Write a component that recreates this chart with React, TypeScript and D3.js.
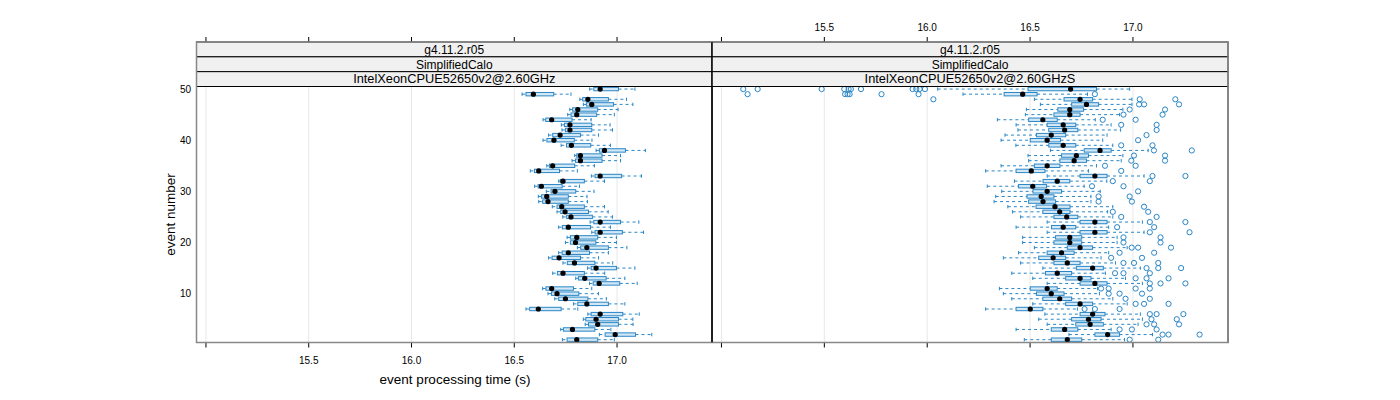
import React from "react";
import * as d3 from "d3";

// ---------- data ----------
const events = d3.range(1, 51);
const stripLabels = ["g4.11.2.r05", "SimplifiedCalo"];
const panelLabels = ["IntelXeonCPUE52650v2@2.60GHz", "IntelXeonCPUE52650v2@2.60GHzS"];
const xTicks = [15.0, 15.5, 16.0, 16.5, 17.0];
const xTickLabels = ["", "15.5", "16.0", "16.5", "17.0"];
const yTicks = [10, 20, 30, 40, 50];

// Panel 1 (event 1..50)
const p1Lo = [16.734,16.914,16.726,16.845,16.836,16.858,16.557,16.788,16.697,16.664,16.638,16.866,16.799,16.687,16.856,16.737,16.667,16.716,16.807,16.749,16.757,16.877,16.716,16.869,16.736,16.708,16.685,16.619,16.617,16.656,16.599,16.716,16.875,16.578,16.658,16.781,16.794,16.898,16.728,16.640,16.667,16.732,16.729,16.640,16.760,16.770,16.836,16.819,16.538,16.867];
const p1Q1 = [16.757,16.942,16.739,16.861,16.848,16.874,16.575,16.809,16.716,16.681,16.654,16.884,16.812,16.710,16.874,16.758,16.684,16.733,16.823,16.773,16.773,16.893,16.734,16.887,16.755,16.726,16.708,16.638,16.633,16.679,16.616,16.724,16.893,16.598,16.671,16.798,16.804,16.914,16.754,16.659,16.687,16.749,16.744,16.653,16.776,16.784,16.851,16.833,16.557,16.887];
const p1Med = [16.804,16.991,16.783,16.906,16.898,16.918,16.617,16.853,16.749,16.708,16.682,16.913,16.843,16.737,16.898,16.793,16.718,16.763,16.853,16.798,16.804,16.918,16.763,16.918,16.776,16.747,16.731,16.664,16.658,16.698,16.632,16.737,16.918,16.619,16.687,16.822,16.822,16.939,16.778,16.693,16.723,16.771,16.771,16.682,16.804,16.809,16.877,16.858,16.593,16.918];
const p1Q3 = [16.906,17.090,16.892,17.007,17.007,17.028,16.728,16.958,16.858,16.814,16.788,17.013,16.947,16.841,16.997,16.892,16.822,16.866,16.958,16.897,16.906,17.026,16.871,17.017,16.880,16.861,16.841,16.763,16.763,16.799,16.733,16.841,17.022,16.720,16.794,16.927,16.927,17.041,16.872,16.792,16.822,16.877,16.877,16.781,16.901,16.906,16.983,16.958,16.692,17.007];
const p1Hi = [16.987,17.169,16.970,17.078,17.077,17.108,16.809,17.038,16.948,16.910,16.877,17.098,17.038,16.940,17.087,16.979,16.910,16.958,17.048,16.997,16.997,17.129,16.968,17.106,16.978,16.957,16.939,16.856,16.854,16.888,16.817,16.939,17.119,16.807,16.890,17.017,17.017,17.138,16.968,16.878,16.910,16.978,16.966,16.874,16.987,17.005,17.077,17.046,16.776,17.087];
const p1Out: number[][] = events.map(() => []);

// Panel 2 (event 1..50)
const p2Lo = [16.472,16.689,16.432,16.583,16.542,16.572,16.284,16.513,16.411,16.370,16.351,16.583,16.513,16.411,16.562,16.454,16.370,16.444,16.521,16.464,16.464,16.583,16.432,16.583,16.454,16.415,16.392,16.325,16.333,16.362,16.292,16.424,16.583,16.284,16.359,16.493,16.490,16.599,16.431,16.359,16.378,16.441,16.432,16.341,16.477,16.482,16.550,16.521,16.174,16.051];
const p2Q1 = [16.603,16.815,16.603,16.722,16.702,16.743,16.432,16.673,16.562,16.531,16.501,16.743,16.673,16.575,16.725,16.616,16.542,16.583,16.681,16.616,16.624,16.743,16.604,16.743,16.616,16.562,16.529,16.493,16.485,16.514,16.444,16.563,16.743,16.432,16.521,16.645,16.653,16.763,16.591,16.501,16.531,16.591,16.583,16.493,16.616,16.635,16.702,16.665,16.374,16.490];
const p2Med = [16.681,16.877,16.668,16.792,16.784,16.804,16.501,16.743,16.644,16.603,16.583,16.815,16.743,16.632,16.804,16.681,16.612,16.653,16.743,16.693,16.693,16.815,16.661,16.815,16.678,16.644,16.621,16.563,16.554,16.583,16.513,16.632,16.815,16.506,16.583,16.714,16.725,16.840,16.661,16.583,16.603,16.668,16.661,16.562,16.693,16.693,16.774,16.743,16.464,16.697];
const p2Q3 = [16.751,16.935,16.732,16.856,16.845,16.864,16.562,16.804,16.702,16.665,16.632,16.874,16.796,16.702,16.856,16.743,16.673,16.714,16.804,16.751,16.751,16.874,16.722,16.874,16.732,16.694,16.694,16.624,16.616,16.653,16.580,16.693,16.874,16.572,16.645,16.774,16.784,16.894,16.722,16.648,16.673,16.732,16.722,16.632,16.743,16.760,16.833,16.804,16.534,16.823];
const p2Hi = [16.959,17.095,16.894,17.025,17.046,17.036,16.730,16.972,16.902,16.837,16.828,17.046,16.964,16.866,17.036,16.915,16.845,16.882,16.972,16.923,16.923,17.054,16.882,17.046,16.902,16.877,16.902,16.796,16.796,16.841,16.763,16.873,17.054,16.784,16.823,16.943,16.951,17.074,16.902,16.853,16.874,16.940,16.894,16.817,16.935,16.951,16.995,16.995,16.779,16.984];
const p2Out: number[][] = [
  [16.984,17.123],[17.144,17.173,17.324],[16.935,16.995,17.115],[17.066,17.103,17.224],[17.090,17.213],
  [17.082,17.115,17.245],[16.765,16.815,16.935],[17.013,17.054,17.173],[16.964,17.082],[16.882,16.935,17.044],
  [16.845,16.882,17.013,17.082],[17.082,17.134,17.255],[17.013,17.066,17.173],[16.913,16.954,17.082],[17.066,17.123,17.234],
  [16.954,17.005,17.123],[16.894,17.044],[16.935,17.103],[16.994,17.025,17.185],[16.954,17.134],
  [16.954,17.134],[17.082,17.275],[16.923,17.103],[17.082,17.255],[16.943,17.115],
  [16.902,17.074],[17.054],[16.833,16.995],[16.833,16.984],[17.025],
  [16.801,16.954],[16.902,17.082],[17.095,17.255],[16.943],[16.864,17.013],
  [16.992,17.156],[17.005,17.156],[17.102,17.286],[16.943,17.095],[17.025],
  [17.066],[17.115],[16.943,17.115],[16.853,17.013],[16.954,17.144],
  [16.984,17.156],[17.030,17.054,17.224],[16.030,17.033,17.206],
  [15.127,15.601,15.613,15.623,15.778,15.958,16.815],
  [15.106,15.176,15.487,15.597,15.618,15.629,15.678,15.929,15.947,15.963,15.989],
];

// ---------- layout ----------
const W = 1400, H = 400;
const panelTop = 86.5, panelBottom = 342.5;
const stripTop = 42;
const stripH = (panelTop - stripTop) / 3;
const panels = [
  { x0: 196.5, x1: 712, lo: p1Lo, q1: p1Q1, med: p1Med, q3: p1Q3, hi: p1Hi, out: p1Out, label: panelLabels[0] },
  { x0: 712, x1: 1228, lo: p2Lo, q1: p2Q1, med: p2Med, q3: p2Q3, hi: p2Hi, out: p2Out, label: panelLabels[1] },
];
const xDomain: [number, number] = [14.954, 17.462];
const y = d3.scaleLinear().domain([0.45, 50.5]).range([panelBottom, panelTop]);

const BLUE = "#2a86c6";
const FILL = "#d2e8f6";
const FONT = "'Liberation Sans', Arial, Helvetica, sans-serif";
const boxHalf = 1.7;

export default function App() {
  return (
    <svg width={W} height={H} style={{ position: "absolute", left: 0, top: 0, background: "#fff" }} fontFamily={FONT}>
      {panels.map((p, pi) => {
        const x = d3.scaleLinear().domain(xDomain).range([p.x0, p.x1]);
        return (
          <g key={pi}>
            {xTicks.map((t) => (
              <line key={"g" + t} x1={x(t)} x2={x(t)} y1={panelTop} y2={panelBottom} stroke="#e8e8e8" strokeWidth={1} />
            ))}
            {events.map((e, i) => {
              const cy = y(e);
              return (
                <g key={e}>
                  <line x1={x(p.lo[i])} x2={x(p.q1[i])} y1={cy} y2={cy} stroke={BLUE} strokeDasharray="3,3" strokeWidth={1} />
                  <line x1={x(p.q3[i])} x2={x(p.hi[i])} y1={cy} y2={cy} stroke={BLUE} strokeDasharray="3,3" strokeWidth={1} />
                  <line x1={x(p.lo[i])} x2={x(p.lo[i])} y1={cy - boxHalf} y2={cy + boxHalf} stroke={BLUE} strokeWidth={1} />
                  <line x1={x(p.hi[i])} x2={x(p.hi[i])} y1={cy - boxHalf} y2={cy + boxHalf} stroke={BLUE} strokeWidth={1} />
                  <rect x={x(p.q1[i])} y={cy - boxHalf} width={x(p.q3[i]) - x(p.q1[i])} height={boxHalf * 2} fill={FILL} stroke={BLUE} strokeWidth={1} />
                  {p.out[i].map((o, k) => (
                    <circle key={k} cx={x(o)} cy={cy} r={2.6} fill="none" stroke={BLUE} strokeWidth={1} />
                  ))}
                  <circle cx={x(p.med[i])} cy={cy} r={2.6} fill="#000" />
                </g>
              );
            })}
            {[...stripLabels, p.label].map((s, si) => (
              <g key={"s" + si}>
                <rect x={p.x0} y={stripTop + si * stripH} width={p.x1 - p.x0} height={stripH} fill="#f0f0f0" stroke="#000" strokeWidth={1} />
                <text x={(p.x0 + p.x1) / 2} y={stripTop + si * stripH + stripH / 2 + 4.3} textAnchor="middle" fontSize={si === 2 ? 12.8 : 12} fill="#000">{s}</text>
              </g>
            ))}
            <rect x={p.x0} y={panelTop} width={p.x1 - p.x0} height={panelBottom - panelTop} fill="none" stroke="#000" strokeWidth={1} />
            {xTicks.map((t, ti) => (
              <g key={"b" + t}>
                <line x1={x(t)} x2={x(t)} y1={panelBottom} y2={panelBottom + 5} stroke="#000" />
                {pi === 0 && (
                  <text x={x(t)} y={panelBottom + 21} textAnchor="middle" fontSize={10}>{xTickLabels[ti]}</text>
                )}
                <line x1={x(t)} x2={x(t)} y1={stripTop} y2={stripTop - 5} stroke="#000" />
                {pi === 1 && (
                  <text x={x(t)} y={stripTop - 11} textAnchor="middle" fontSize={10}>{xTickLabels[ti]}</text>
                )}
              </g>
            ))}
          </g>
        );
      })}
      <rect x={196.5} y={stripTop} width={1228 - 196.5} height={panelBottom - stripTop} fill="none" stroke="#888" strokeWidth={1.5} />
      <line x1={712} x2={712} y1={stripTop} y2={panelBottom} stroke="#000" strokeWidth={1} />
      {yTicks.map((t) => (
        <text key={t} x={191} y={y(t) + 3.5} textAnchor="end" fontSize={10}>{t}</text>
      ))}
      <text x={455} y={384} textAnchor="middle" fontSize={13.5}>event processing time (s)</text>
      <text transform={`translate(175,${(panelTop + panelBottom) / 2}) rotate(-90)`} textAnchor="middle" fontSize={13.5}>event number</text>
    </svg>
  );
}
